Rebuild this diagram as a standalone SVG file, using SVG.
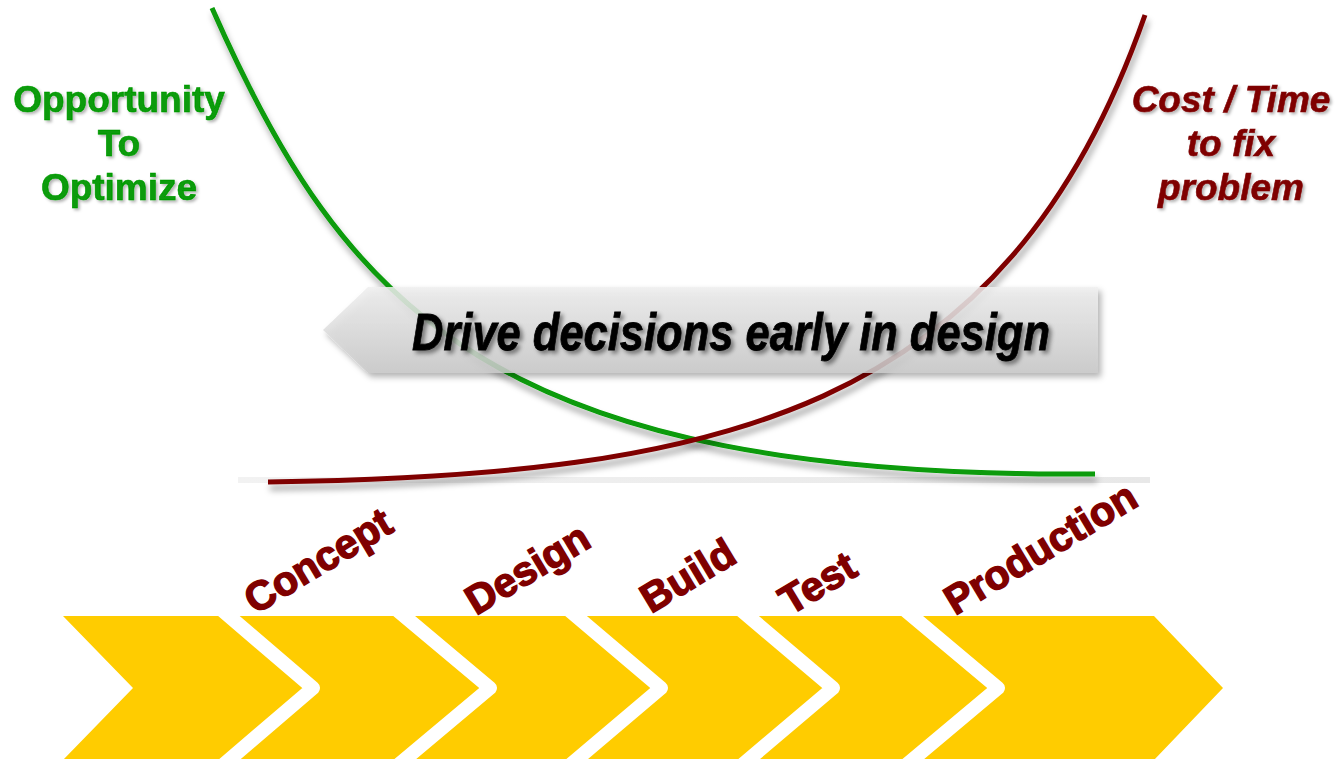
<svg xmlns="http://www.w3.org/2000/svg" width="1337" height="759" viewBox="0 0 1337 759">
<defs>
<style>
.lbl{font-family:"Liberation Sans",Arial,sans-serif;font-weight:bold;font-size:37px;text-anchor:middle}
.green{fill:#079B07;stroke:#079B07;stroke-width:0.6}
.red{fill:#7F0000;stroke:#7F0000;stroke-width:0.6;font-style:italic}
.stage{font-family:"Liberation Sans",Arial,sans-serif;font-weight:bold;font-size:41px;fill:#7F0000;stroke:#7F0000;stroke-width:1.4}
.chev{fill:#FFCC00}
.gap{fill:none;stroke:#FFFFFF;stroke-width:14;stroke-linejoin:round}
.curve{fill:none;stroke-width:5}
</style>
<filter id="tshadow" x="-10%" y="-20%" width="130%" height="150%">
<feDropShadow dx="2" dy="2" stdDeviation="1.5" flood-color="#000" flood-opacity="0.3"/>
</filter>
<filter id="cshadow" x="-10%" y="-10%" width="130%" height="130%">
<feDropShadow dx="2" dy="6" stdDeviation="3" flood-color="#000" flood-opacity="0.35"/>
</filter>
<filter id="bshadow" x="-10%" y="-20%" width="130%" height="160%">
<feDropShadow dx="3" dy="4" stdDeviation="3" flood-color="#000" flood-opacity="0.35"/>
</filter>
<filter id="dshadow" x="-10%" y="-30%" width="130%" height="180%">
<feDropShadow dx="3" dy="3" stdDeviation="2" flood-color="#000" flood-opacity="0.45"/>
</filter>
<linearGradient id="banner" x1="0" y1="0" x2="0" y2="1">
<stop offset="0" stop-color="#EFEFEF"/>
<stop offset="1" stop-color="#C9C9C9"/>
</linearGradient>
<linearGradient id="base" x1="0" y1="0" x2="1" y2="0">
<stop offset="0" stop-color="#F2F2F2"/>
<stop offset="1" stop-color="#E8E8E8"/>
</linearGradient>
<clipPath id="chevclip"><rect x="0" y="616" width="1337" height="150"/></clipPath>
</defs>
<rect width="1337" height="759" fill="#FFFFFF"/>

<g id="baseline">
<rect x="238" y="477" width="912" height="6" fill="url(#base)"/>
</g>

<g id="connectors">
<path id="opportunity-curve" class="curve" stroke="#079B07" filter="url(#cshadow)" d="M212,8 C345,310 495,478 1095,474"/>
<path id="cost-curve" class="curve" stroke="#7F0000" filter="url(#cshadow)" d="M268,482 C720,475 1005,415 1145,15"/>
</g>

<g id="banner-arrow">
<polygon points="323,330 368,287 1098,287 1098,373 368,373" fill="url(#banner)" fill-opacity="0.85" filter="url(#bshadow)"/>
<text x="412" y="350" font-family="'Liberation Sans',Arial,sans-serif" font-weight="bold" font-style="italic" font-size="52" fill="#000" stroke="#000" stroke-width="0.8" textLength="638" lengthAdjust="spacingAndGlyphs" filter="url(#dshadow)">Drive decisions early in design</text>
</g>

<g id="opportunity-label" filter="url(#tshadow)">
<text class="lbl green" x="119" y="112">Opportunity</text>
<text class="lbl green" x="119" y="156">To</text>
<text class="lbl green" x="119" y="200">Optimize</text>
</g>

<g id="cost-label" filter="url(#tshadow)">
<text class="lbl red" x="1231" y="112">Cost / Time</text>
<text class="lbl red" x="1231" y="156">to fix</text>
<text class="lbl red" x="1231" y="200">problem</text>
</g>

<g id="chevrons">
<g id="chevron-1"><polygon class="chev" points="63,616 229,616 313,688 229,760 63,760 133,688"/></g>
<g id="chevron-2"><polygon class="chev" points="229,616 404,616 490,688 404,760 229,760 313,688"/>
<polyline class="gap" clip-path="url(#chevclip)" points="217,605.8 313,688 217,770.2"/></g>
<g id="chevron-3"><polygon class="chev" points="404,616 576,616 661,688 576,760 404,760 490,688"/>
<polyline class="gap" clip-path="url(#chevclip)" points="392,605.8 490,688 392,770.2"/></g>
<g id="chevron-4"><polygon class="chev" points="576,616 748,616 833,688 748,760 576,760 661,688"/>
<polyline class="gap" clip-path="url(#chevclip)" points="564,605.8 661,688 564,770.2"/></g>
<g id="chevron-5"><polygon class="chev" points="748,616 912,616 998,688 912,760 748,760 833,688"/>
<polyline class="gap" clip-path="url(#chevclip)" points="736,605.8 833,688 736,770.2"/></g>
<g id="chevron-6"><polygon class="chev" points="912,616 1154,616 1223,688 1154,760 912,760 998,688"/>
<polyline class="gap" clip-path="url(#chevclip)" points="900,605.8 998,688 900,770.2"/></g>
</g>

<g id="stage-concept"><text class="stage" transform="translate(255,615) rotate(-31)">Concept</text></g>
<g id="stage-design"><text class="stage" transform="translate(476,616) rotate(-31)">Design</text></g>
<g id="stage-build"><text class="stage" transform="translate(651,614) rotate(-31)">Build</text></g>
<g id="stage-test"><text class="stage" transform="translate(790,616) rotate(-31)">Test</text></g>
<g id="stage-production"><text class="stage" transform="translate(955,616) rotate(-31)">Production</text></g>
</svg>
